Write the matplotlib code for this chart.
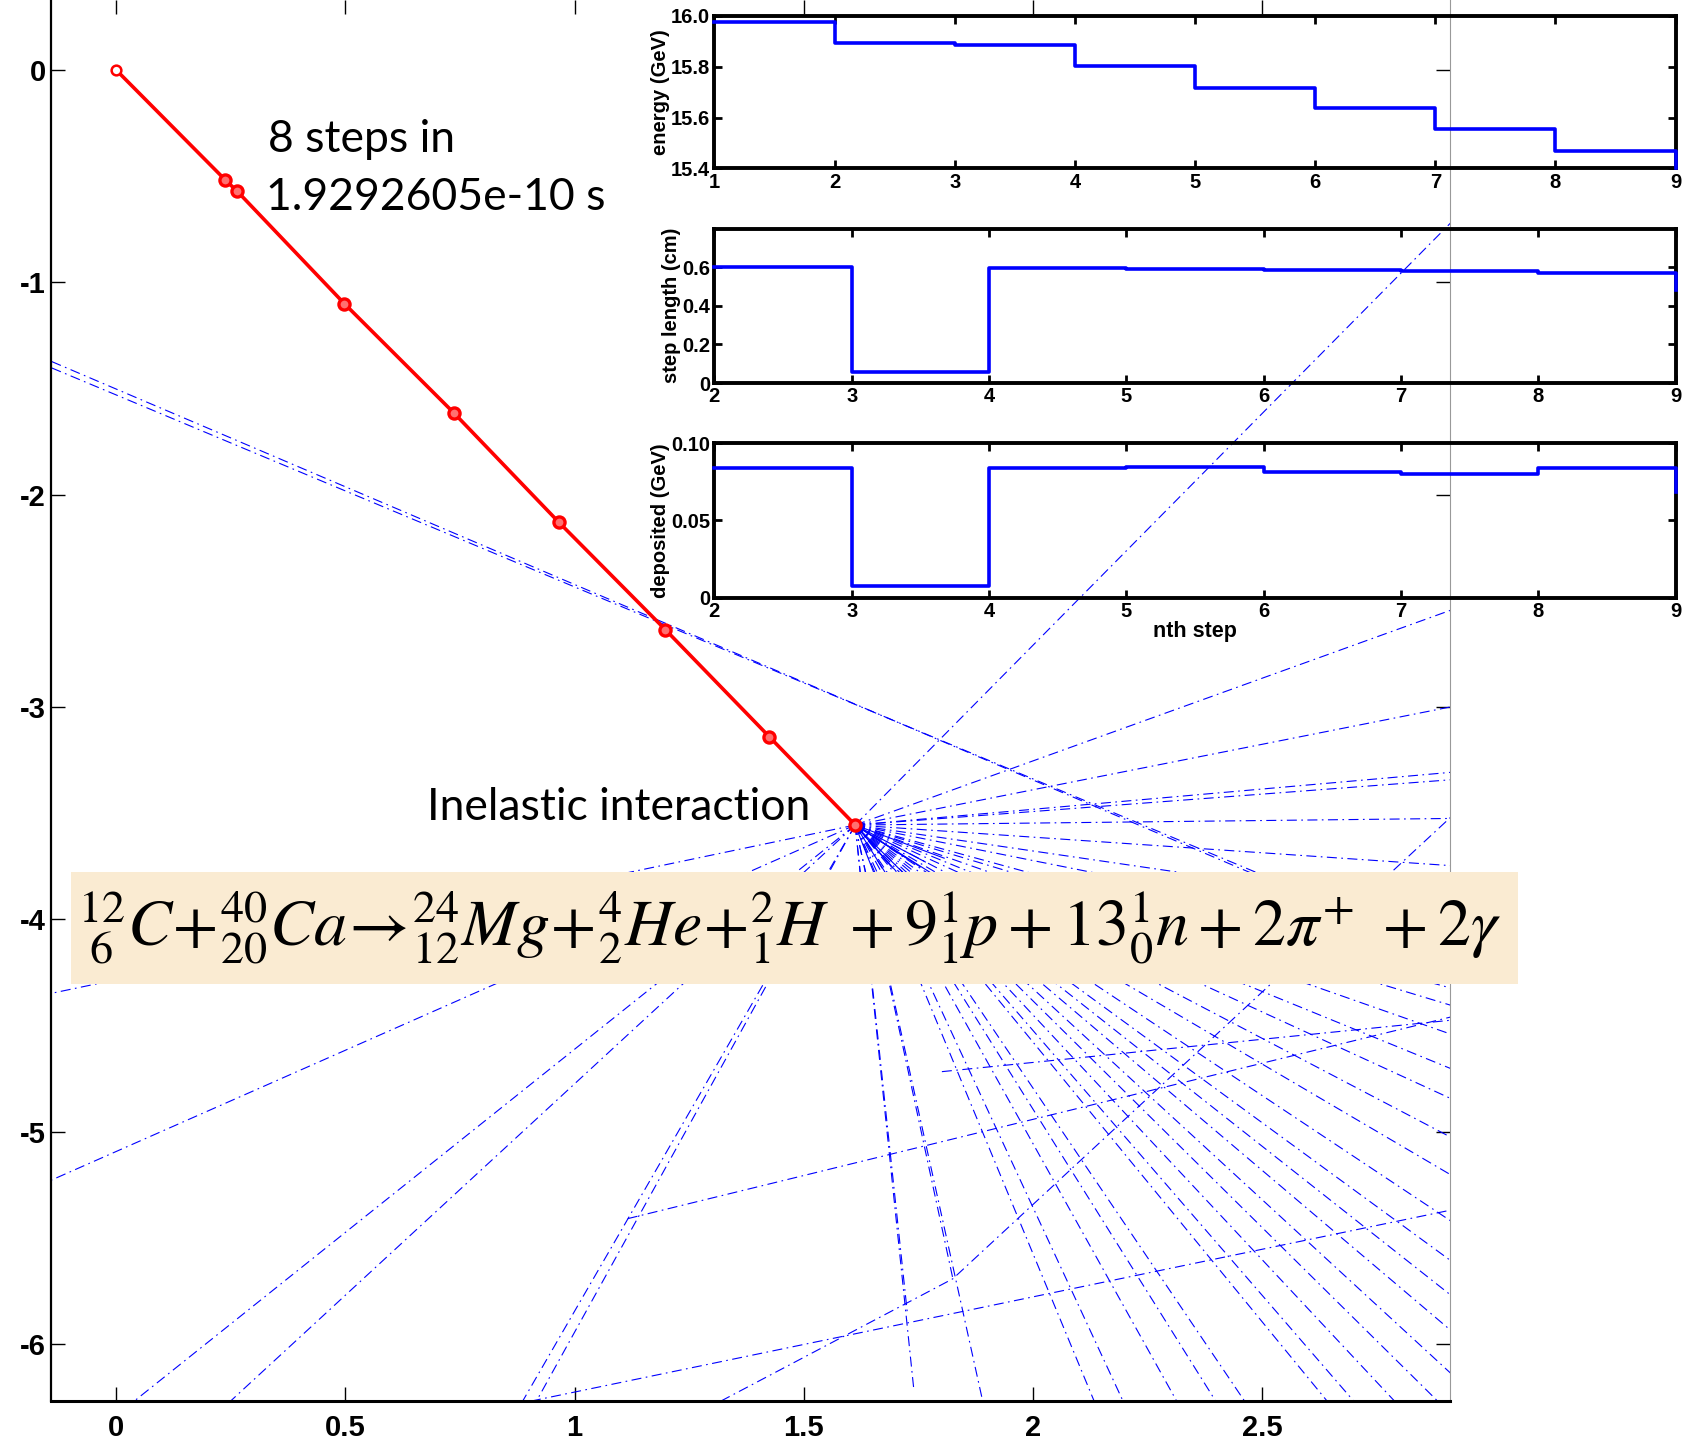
import matplotlib.pyplot as plt
from matplotlib.font_manager import fontManager

plt.rcParams['mathtext.fontset'] = 'stix'

names = {f.name for f in fontManager.ttflist}
TICK_FONT = ['Liberation Sans Narrow', 'Liberation Sans', 'DejaVu Sans']
TICK_FONT = [f for f in TICK_FONT if f in names]
NOTE_FONT = [f for f in ['Lato', 'Open Sans', 'DejaVu Sans'] if f in names]

# primary carbon track, projected (cm)
track_x = [0.0, 0.239, 0.264, 0.498, 0.737, 0.966, 1.198, 1.425, 1.612]
track_y = [0.0, -0.520, -0.571, -1.101, -1.616, -2.131, -2.636, -3.141, -3.556]

# secondaries leaving the interaction vertex: end points
fan_x = [2.910, 2.910, 2.910, 2.910, 2.910, 2.910, 2.910,
         2.910, 2.910, 2.910, 2.910, 2.910, 2.910, 2.910, 2.910, 2.910,
         2.910, 2.910, 2.910, 2.910, 2.910,
         2.882, 2.788, 2.699, 2.641, 2.461, 2.398, 2.313, 2.196, 2.133, 1.890,
         1.740, 1.726, 1.825,
         0.917, 0.887, 0.250, 0.040, -0.140, -0.140]
fan_y = [-0.722, -2.545, -3.000, -3.308, -3.343, -3.525, -3.747,
         -3.965, -4.116, -4.323, -4.404, -4.540, -4.702, -4.843, -5.025, -5.202,
         -5.419, -5.606, -5.768, -5.934, -6.136,
         -6.268, -6.268, -6.268, -6.268, -6.268, -6.268, -6.268, -6.268, -6.268, -6.268,
         -6.217, -5.859, -5.692,
         -6.268, -6.268, -6.268, -6.268, -5.227, -4.348]

# short low-energy fragments at the vertex
stub_x = [1.701, 1.724, 1.680, 1.754, 1.782, 1.654, 1.806, 1.736, 1.690, 1.765]
stub_y = [-3.773, -3.712, -3.788, -3.753, -3.788, -3.788, -3.712, -3.823, -3.750, -3.730]

# other secondary tracks (polylines)
other_tracks = [
    ([-0.140, 2.910], [-1.374, -4.182]),
    ([-0.140, 2.910], [-1.404, -4.162]),
    ([1.801, 2.910], [-4.717, -4.475]),
    ([1.116, 2.910], [-5.409, -4.460]),
    ([0.905, 2.910], [-6.268, -5.369]),
    ([1.319, 1.825, 2.910], [-6.268, -5.692, -3.520]),
]

energy_step = [1, 2, 3, 4, 5, 6, 7, 8, 9]
energy = [15.976, 15.893, 15.887, 15.802, 15.716, 15.637, 15.556, 15.468, 15.40]
length_step = [2, 3, 4, 5, 6, 7, 8, 9]
step_length = [0.600, 0.056, 0.595, 0.590, 0.583, 0.579, 0.572, 0.48]
deposited = [0.0840, 0.0073, 0.0840, 0.0846, 0.0810, 0.0800, 0.0840, 0.0686]

equation = (r'${}^{12}_{\ 6}C\!+\!{}^{40}_{20}Ca\!\rightarrow\!{}^{24}_{12}Mg\!+\!{}^{4}_{2}He'
            r'\!+\!{}^{2}_{1}H\ +9{}^{1}_{1}p+13{}^{1}_{0}n+2\pi^{+}\ +2\gamma$')

dashdot = (0, (9, 4, 1.5, 4))

fig = plt.figure(figsize=(16.82, 14.40), dpi=100)

# main track view
ax = fig.add_axes([0.0306, 0.027, 0.8315, 0.973])
vx, vy = track_x[-1], track_y[-1]
for ex, ey in zip(fan_x, fan_y):
    ax.plot([vx, ex], [vy, ey], color='blue', lw=0.8, ls=dashdot)
for ex, ey in zip(stub_x, stub_y):
    ax.plot([vx, ex], [vy, ey], color='blue', lw=0.8)
for tx, ty in other_tracks:
    ax.plot(tx, ty, color='blue', lw=0.8, ls=dashdot)

ax.plot(track_x, track_y, color='red', lw=2.6, zorder=5)
ax.plot(track_x[1:], track_y[1:], 'o', color='red', ms=8, mew=2.4, mfc='#ff7070', zorder=6)
ax.plot(track_x[:1], track_y[:1], 'o', color='red', ms=7, mew=1.8, mfc='white', zorder=6)

ax.set_xlim(-0.1404, 2.909)
ax.set_ylim(-6.268, 0.328)
ax.set_xticks([0, 0.5, 1, 1.5, 2, 2.5])
ax.set_xticklabels(['0', '0.5', '1', '1.5', '2', '2.5'])
ax.set_yticks([-6, -5, -4, -3, -2, -1, 0])
ax.set_yticklabels(['-6', '-5', '-4', '-3', '-2', '-1', '0'])
for lab in ax.get_xticklabels() + ax.get_yticklabels():
    lab.set_family(TICK_FONT)
    lab.set_fontweight('bold')
    lab.set_fontsize(21)
ax.tick_params(axis='both', direction='in', top=True, right=True, length=10, width=1)
ax.tick_params(axis='x', pad=9)
ax.tick_params(axis='y', pad=4)
ax.tick_params(axis='y', which='both', right=True, color='black')
for t in ax.yaxis.get_major_ticks():
    t.tick2line.set_color('#777777')
ax.spines['top'].set_visible(False)
ax.spines['left'].set_linewidth(1.6)
ax.spines['bottom'].set_linewidth(2.2)
ax.spines['right'].set_linewidth(0.8)
ax.spines['right'].set_color('#999999')

ax.text(268 / 1682, 1 - 139 / 1440, '8 steps in', transform=fig.transFigure,
        family=NOTE_FONT, fontsize=32, va='center', ha='left', color='black')
ax.text(266 / 1682, 1 - 197 / 1440, '1.9292605e-10 s', transform=fig.transFigure,
        family=NOTE_FONT, fontsize=32, va='center', ha='left', color='black')
ax.text(427 / 1682, 1 - 808 / 1440, 'Inelastic interaction', transform=fig.transFigure,
        family=NOTE_FONT, fontsize=32, va='center', ha='left', color='black')

# reaction banner
eq_ax = fig.add_axes([70.8 / 1682, 1 - 983.6 / 1440, (1518 - 70.8) / 1682, 111.6 / 1440])
eq_ax.set_facecolor('#faebd2')
eq_ax.set_xticks([])
eq_ax.set_yticks([])
for s in eq_ax.spines.values():
    s.set_visible(False)
eq_ax.text(0.004, 0.50, equation, fontsize=47.5, ha='left', va='center', transform=eq_ax.transAxes)


def step_panel(rect, x, y, ylim, yticks, yticklabels, ylabel):
    p = fig.add_axes(rect)
    p.patch.set_alpha(0)
    p.step(x, y, where='post', color='blue', lw=2.6, zorder=3, clip_on=False)
    p.set_xlim(x[0], x[-1])
    p.set_ylim(*ylim)
    p.set_xticks(x)
    p.set_yticks(yticks)
    p.set_yticklabels(yticklabels)
    for lab in p.get_xticklabels() + p.get_yticklabels():
        lab.set_family(TICK_FONT)
        lab.set_fontweight('bold')
        lab.set_fontsize(14.5)
    p.tick_params(direction='in', top=True, right=True, length=6, width=2, pad=3)
    for s in p.spines.values():
        s.set_linewidth(2.8)
    p.set_ylabel(ylabel, family=TICK_FONT, fontweight='bold', fontsize=14.5, labelpad=1)
    return p


step_panel([0.4247, 0.8831, 0.5715, 0.1058], energy_step, energy, (15.4, 16.0),
           [15.4, 15.6, 15.8, 16.0], ['15.4', '15.6', '15.8', '16.0'], 'energy (GeV)')
step_panel([0.4247, 0.7340, 0.5715, 0.1073], length_step, step_length, (0, 0.8),
           [0, 0.2, 0.4, 0.6], ['0', '0.2', '0.4', '0.6'], 'step length (cm)')
dep = step_panel([0.4247, 0.5850, 0.5715, 0.1073], length_step, deposited, (0, 0.10),
                 [0, 0.05, 0.10], ['0', '0.05', '0.10'], 'deposited (GeV)')
dep.set_xlabel('nth step', family=TICK_FONT, fontweight='bold', fontsize=15.5, labelpad=0)

fig.savefig('out.png', dpi=100)
